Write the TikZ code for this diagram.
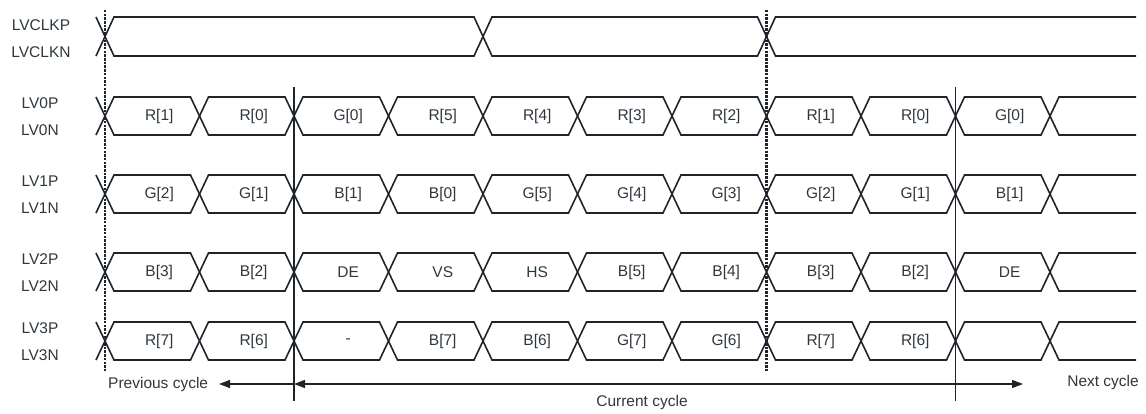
\documentclass[tikz,border=0pt]{standalone}
\usepackage{fontspec}
\setmainfont{Liberation Sans}
\usetikzlibrary{arrows.meta}
\definecolor{wire}{RGB}{30,36,42}
\definecolor{txt}{RGB}{45,55,62}
\tikzset{
	sig/.style={draw=wire, line width=1.6pt, line join=miter},
	lbl/.style={text=txt, font=\fontsize{15.5}{17}\selectfont, inner sep=0pt},
	bit/.style={lbl, xshift=7pt},
	syncline/.style={draw=wire, line width=2.2pt, dash pattern=on 2.5pt off 1.2pt},
	cycleline/.style={draw=wire, line width=1.3pt},
	span/.style={draw=wire, line width=1.4pt, -{Triangle[length=11pt,width=8pt]}}
}
\begin{document}
\begin{tikzpicture}[x=1pt, y=-1pt]
	\useasboundingbox (0,0) rectangle (1146,414);

	% clock pair
	\node[lbl] (clkp) at (41,25) {LVCLKP};
	\node[lbl] (clkn) at (41,52) {LVCLKN};
	\draw[sig] (96,17) -- (114,56) -- (474,56) -- (492,17) -- (757.5,17) -- (775.5,56) -- (1136,56);
	\draw[sig] (96,56) -- (114,17) -- (474,17) -- (492,56) -- (757.5,56) -- (775.5,17) -- (1136,17);

	% data pairs
	\foreach \yt/\n/\labs in {
			97/0/{R[1],R[0],G[0],R[5],R[4],R[3],R[2],R[1],R[0],G[0]},
			175/1/{G[2],G[1],B[1],B[0],G[5],G[4],G[3],G[2],G[1],B[1]},
			253/2/{B[3],B[2],DE,VS,HS,B[5],B[4],B[3],B[2],DE},
			322/3/{R[7],R[6],-,B[7],B[6],G[7],G[6],R[7],R[6]}} {
		\pgfmathsetmacro\ym{\yt+19}
		\pgfmathsetmacro\yb{\yt+38}
		\node[lbl] (lv\n p) at (40,\yt+6.5) {LV\n P};
		\node[lbl] (lv\n n) at (40,\yt+33) {LV\n N};
		\draw[sig] (96,\yt) -- (105,\ym) -- (96,\yb);
		\foreach \k in {0,...,9} {
			\pgfmathsetmacro\xa{105+94.5*\k}
			\pgfmathsetmacro\xb{\xa+94.5}
			\draw[sig] (\xa,\ym) -- (\xa+9,\yt) -- (\xb-9,\yt) -- (\xb,\ym) -- (\xb-9,\yb) -- (\xa+9,\yb) -- cycle;
		}
		\draw[sig] (1136,\yt) -- (1059,\yt) -- (1050,\ym) -- (1059,\yb) -- (1136,\yb);
		\foreach \t [count=\k from 0] in \labs
			\node[bit] (b\n-\k) at (152.25+94.5*\k,\ym) {\t};
	}

	% frame markers
	\coordinate (sync0top) at (105,10);
	\coordinate (sync0bot) at (105,372);
	\coordinate (sync1top) at (766.5,10);
	\coordinate (sync1bot) at (766.5,372);
	\draw[syncline] (sync0top) -- (sync0bot);
	\draw[syncline] (sync1top) -- (sync1bot);
	\coordinate (cyc0top) at (294,87);
	\coordinate (cyc0bot) at (294,401);
	\coordinate (cyc1top) at (955.5,87);
	\coordinate (cyc1bot) at (955.5,401);
	\draw[cycleline] (cyc0top) -- (cyc0bot);
	\draw[cycleline] (cyc1top) -- (cyc1bot);

	% cycle arrows
	\coordinate (c0) at (294,384);
	\coordinate (c1) at (955.5,384);
	\coordinate (prevtip) at (219,384);
	\coordinate (nexttip) at (1023,384);
	\node[lbl, anchor=west] (prevtxt) at (108,384) {Previous cycle};
	\node[lbl] (curtxt) at (642,402) {Current cycle};
	\node[lbl, anchor=east] (nexttxt) at (1139,382) {Next cycle};
	\draw[span] (c0) -- (prevtip);
	\draw[span, {Triangle[length=11pt,width=8pt]}-] (c0) -- (c1);
	\draw[span] (c1) -- (nexttip);
\end{tikzpicture}
\end{document}
